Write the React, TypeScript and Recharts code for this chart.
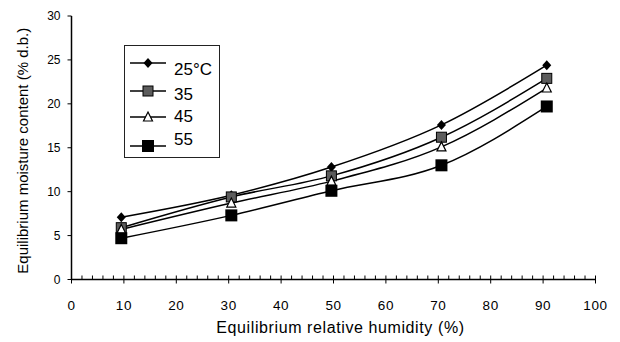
import React from "react";
import {
  LineChart,
  Line,
  XAxis,
  YAxis,
  Legend,
  Label,
} from "recharts";

// relative humidity (%) at which each sample was taken
const rh = [9.5, 30.5, 49.6, 70.6, 90.7];

// equilibrium moisture content (% d.b.) per temperature
const emc25 = [7.1, 9.6, 12.8, 17.6, 24.4];
const emc35 = [5.9, 9.4, 11.8, 16.2, 22.9];
const emc45 = [5.7, 8.7, 11.2, 15.1, 21.8];
const emc55 = [4.7, 7.3, 10.1, 13.0, 19.7];

const seriesNames = ["25°C", "35", "45", "55"];

const yTicks = [0, 5, 10, 15, 20, 25, 30];
const xMajorTicks = [0, 10, 20, 30, 40, 50, 60, 70, 80, 90, 100];
const xTicks = Array.from({ length: 51 }, (_, i) => i * 2);

const data = rh.map((x, i) => ({
  rh: x,
  t25: emc25[i],
  t35: emc35[i],
  t45: emc45[i],
  t55: emc55[i],
}));

const FONT = "'Liberation Sans', Arial, sans-serif";

type Mark = "diamond" | "graySquare" | "triangle" | "blackSquare";

function Marker({ kind, cx, cy }: { kind: Mark; cx: number; cy: number }) {
  if (kind === "diamond") {
    return (
      <polygon
        points={`${cx},${cy - 5} ${cx + 4.5},${cy} ${cx},${cy + 5} ${cx - 4.5},${cy}`}
        fill="#000"
      />
    );
  }
  if (kind === "graySquare") {
    return (
      <rect x={cx - 5} y={cy - 5} width={10} height={10} fill="#5c5c5c" stroke="#000" strokeWidth={1} />
    );
  }
  if (kind === "triangle") {
    return (
      <polygon
        points={`${cx},${cy - 5} ${cx + 4.5},${cy + 4} ${cx - 4.5},${cy + 4}`}
        fill="#fff"
        stroke="#000"
        strokeWidth={1.2}
      />
    );
  }
  return <rect x={cx - 6} y={cy - 6} width={12} height={12} fill="#000" />;
}

const series: { key: string; name: string; mark: Mark }[] = [
  { key: "t25", name: seriesNames[0], mark: "diamond" },
  { key: "t35", name: seriesNames[1], mark: "graySquare" },
  { key: "t45", name: seriesNames[2], mark: "triangle" },
  { key: "t55", name: seriesNames[3], mark: "blackSquare" },
];

function XTick(props: any) {
  const { x, y, payload } = props;
  const major = xMajorTicks.includes(payload.value);
  return (
    <g>
      <line x1={x} x2={x} y1={y - 4} y2={major ? y + 4 : y} stroke="#000" strokeWidth={1} />
      {major && (
        <text
          x={x}
          y={y + 26}
          textAnchor="middle"
          dominantBaseline="central"
          fontSize={13.5}
          letterSpacing={0.6}
          fontFamily={FONT}
          fill="#000"
        >
          {payload.value}
        </text>
      )}
    </g>
  );
}

// legend rows: marker y, text y
const legendRows = [
  { my: 18, ty: 24 },
  { my: 46, ty: 49 },
  { my: 72, ty: 71 },
  { my: 101, ty: 94 },
];

function LegendBox(props: any) {
  const payload = props.payload || [];
  return (
    <svg width={96} height={113} style={{ display: "block" }}>
      <rect x={0.5} y={0.5} width={95} height={112} fill="#fff" stroke="#222" strokeWidth={1} />
      {payload.map((p: any, i: number) => {
        const s = series.find((d) => d.key === p.dataKey) || series[i];
        const r = legendRows[i];
        return (
          <g key={s.key}>
            <line x1={6} x2={42} y1={r.my} y2={r.my} stroke="#000" strokeWidth={1.5} />
            <Marker kind={s.mark} cx={24} cy={r.my} />
            <text
              x={50}
              y={r.ty}
              dominantBaseline="central"
              fontSize={17}
              fontFamily={FONT}
              fill="#000"
            >
              {s.name}
            </text>
          </g>
        );
      })}
    </svg>
  );
}

export default function App() {
  return (
    <div style={{ position: "absolute", left: 0, top: 0, background: "#fff" }}>
      <LineChart
        width={620}
        height={342}
        data={data}
        margin={{ top: 16, right: 24.5, left: 0, bottom: 0 }}
      >
        <XAxis
          xAxisId="top"
          orientation="top"
          dataKey="rh"
          type="number"
          domain={[0, 100]}
          height={0}
          tick={false}
          tickLine={false}
          axisLine={{ stroke: "#666", strokeWidth: 1.5 }}
        />
        <YAxis
          yAxisId="right"
          orientation="right"
          type="number"
          domain={[0, 30]}
          width={0}
          tick={false}
          tickLine={false}
          axisLine={{ stroke: "#000", strokeWidth: 1.5 }}
        />
        <XAxis
          dataKey="rh"
          type="number"
          domain={[0, 100]}
          ticks={xTicks}
          interval={0}
          height={62.5}
          tickSize={0}
          tickMargin={0}
          tick={<XTick />}
          axisLine={{ stroke: "#000", strokeWidth: 1.5 }}
        >
          <Label
            content={(p: any) => {
              const vb = p.viewBox;
              return (
                <text
                  x={vb.x + vb.width / 2 + 7}
                  y={vb.y + vb.height - 9}
                  textAnchor="middle"
                  fontSize={16}
                  letterSpacing={0.6}
                  fontFamily={FONT}
                  fill="#000"
                >
                  Equilibrium relative humidity (%)
                </text>
              );
            }}
          />
        </XAxis>
        <YAxis
          type="number"
          domain={[0, 30]}
          ticks={yTicks}
          width={71.5}
          tickSize={4}
          tickMargin={7}
          tick={{ fontSize: 12, fontFamily: FONT, fill: "#000" }}
          tickLine={{ stroke: "#000" }}
          axisLine={{ stroke: "#000", strokeWidth: 1.5 }}
        >
          <Label
            content={(p: any) => {
              const vb = p.viewBox;
              const cx = 22;
              const cy = vb.y + vb.height / 2 + 3;
              return (
                <text
                  x={cx}
                  y={cy}
                  transform={`rotate(-90, ${cx}, ${cy})`}
                  textAnchor="middle"
                  dominantBaseline="central"
                  fontSize={15}
                  fontFamily={FONT}
                  fill="#000"
                >
                  Equilibrium moisture content (% d.b.)
                </text>
              );
            }}
          />
        </YAxis>
        <Legend
          layout="vertical"
          align="center"
          verticalAlign="middle"
          content={<LegendBox />}
          wrapperStyle={{ left: 124, top: 45, width: 96, height: 113 }}
        />
        {series.map((s) => (
          <Line
            key={s.key}
            dataKey={s.key}
            name={s.name}
            type="monotone"
            stroke="#000"
            strokeWidth={1.5}
            isAnimationActive={false}
            dot={(p: any) => <Marker key={`${s.key}-${p.index}`} kind={s.mark} cx={p.cx} cy={p.cy} />}
            activeDot={false}
            legendType="line"
          />
        ))}
      </LineChart>
    </div>
  );
}
